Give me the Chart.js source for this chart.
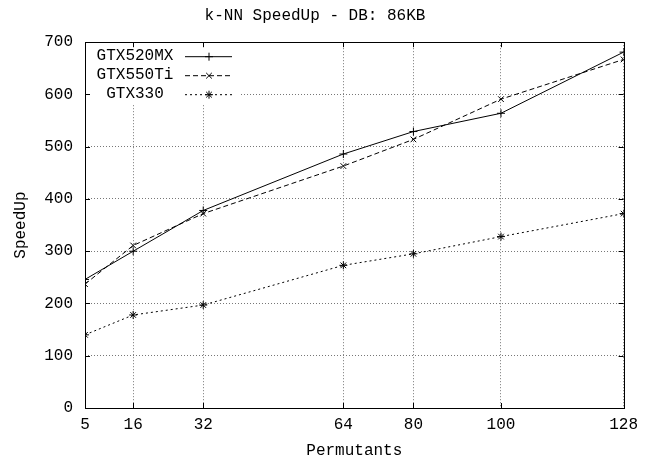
<!DOCTYPE html>
<html><head>
<meta charset="UTF-8">
<title>k-NN SpeedUp - DB: 86KB</title>
<style>
  body { margin: 0; background: #fff; }
  #wrap { width: 645px; height: 462px; }
</style>
<script src="https://cdn.jsdelivr.net/npm/chart.js"></script>
</head>
<body>
<div id="wrap"><canvas id="speedChart"></canvas></div>
<script>
  // values
  const permutants = [5, 16, 32, 64, 80, 100, 128];
  const seriesNames = ['GTX520MX', 'GTX550Ti', 'GTX330'];
  const gtx520mx = [246, 300, 378, 486, 529, 564, 681];
  const gtx550ti = [237, 311, 372, 463, 514, 591, 667];
  const gtx330 = [140, 178, 197, 273, 295, 328, 372];
  const yTicks = [0, 100, 200, 300, 400, 500, 600, 700];

  const mono = "'Liberation Mono', 'DejaVu Sans Mono', monospace";
  const dashes = [[], [5, 3], [2, 3]];
  const markers = ['cross', 'crossRot', 'star'];
  const allValues = [gtx520mx, gtx550ti, gtx330];

  // gnuplot style: white key box, full border, inward tics
  const gnuplotFrame = {
    id: 'gnuplotFrame',
    beforeDatasetsDraw(chart) {
      const ctx = chart.ctx;
      const a = chart.chartArea;
      ctx.save();
      ctx.fillStyle = '#fff';
      ctx.fillRect(a.left + 1, a.top + 1, 155, 61);
      ctx.restore();
    },
    afterDraw(chart) {
      const ctx = chart.ctx;
      const a = chart.chartArea;
      const xs = chart.scales.x, ys = chart.scales.y;
      ctx.save();

      // key
      ctx.font = '16px ' + mono;
      ctx.fillStyle = '#000';
      ctx.textAlign = 'center';
      ctx.textBaseline = 'middle';
      seriesNames.forEach((name, i) => {
        const y = a.top + 14 + i * 19;
        ctx.fillText(name, a.left + 50, y);
        ctx.strokeStyle = '#000';
        ctx.lineWidth = 1;
        ctx.setLineDash(dashes[i]);
        ctx.beginPath();
        ctx.moveTo(a.left + 100, y + 0.5);
        ctx.lineTo(a.left + 147, y + 0.5);
        ctx.stroke();
        ctx.setLineDash([]);
        Chart.helpers.drawPoint(ctx, {pointStyle: markers[i], radius: 4, borderWidth: 1}, a.left + 124, y + 0.5);
      });

      // border
      ctx.setLineDash([]);
      ctx.strokeStyle = '#000';
      ctx.lineWidth = 1;
      ctx.strokeRect(Math.round(a.left) + 0.5, Math.round(a.top) + 0.5,
        Math.round(a.right - a.left), Math.round(a.bottom - a.top));

      // inward tics
      const tl = 5;
      ctx.beginPath();
      permutants.forEach(v => {
        const px = Math.round(xs.getPixelForValue(v)) + 0.5;
        ctx.moveTo(px, a.bottom); ctx.lineTo(px, a.bottom - tl);
        ctx.moveTo(px, a.top); ctx.lineTo(px, a.top + tl);
      });
      yTicks.forEach(v => {
        const py = Math.round(ys.getPixelForValue(v)) + 0.5;
        ctx.moveTo(a.left, py); ctx.lineTo(a.left + tl, py);
        ctx.moveTo(a.right, py); ctx.lineTo(a.right - tl, py);
      });
      ctx.stroke();
      ctx.restore();
    }
  };

  const datasets = seriesNames.map((name, i) => ({
    label: name,
    data: permutants.map((p, j) => ({x: p, y: allValues[i][j]})),
    borderColor: '#000',
    backgroundColor: '#000',
    borderWidth: 1,
    borderDash: dashes[i],
    pointStyle: markers[i],
    pointRadius: 4,
    pointBorderWidth: 1,
    pointBorderColor: '#000',
    tension: 0,
    fill: false
  }));

  const gridOpts = {
    color: '#777',
    lineWidth: 1,
    drawTicks: false
  };

  new Chart(document.getElementById('speedChart'), {
    type: 'line',
    data: { datasets },
    plugins: [gnuplotFrame],
    options: {
      responsive: true,
      maintainAspectRatio: false,
      animation: false,
      layout: { padding: { left: 0, right: 15, top: 0, bottom: 0 } },
      plugins: {
        legend: { display: false },
        tooltip: { enabled: false },
        title: {
          display: true,
          text: 'k-NN SpeedUp - DB: 86KB',
          color: '#000',
          font: { family: mono, size: 16, weight: 'normal' },
          padding: { top: 6, bottom: 17 }
        }
      },
      scales: {
        x: {
          type: 'linear',
          min: 5,
          max: 128,
          grid: gridOpts,
          border: { display: false, dash: [1, 2] },
          afterBuildTicks: s => { s.ticks = permutants.map(v => ({ value: v })); },
          afterFit: s => { s.height = 54; },
          ticks: {
            color: '#000',
            padding: 7,
            maxRotation: 0,
            autoSkip: false,
            font: { family: mono, size: 16 }
          },
          title: {
            display: true,
            text: 'Permutants',
            color: '#000',
            font: { family: mono, size: 16 },
            padding: { top: 0, bottom: 2 }
          }
        },
        y: {
          min: 0,
          max: 700,
          grid: gridOpts,
          border: { display: false, dash: [1, 2] },
          afterBuildTicks: s => { s.ticks = yTicks.map(v => ({ value: v })); },
          afterFit: s => { s.width = 85; },
          ticks: {
            color: '#000',
            padding: 12,
            font: { family: mono, size: 16 }
          },
          title: {
            display: true,
            text: 'SpeedUp',
            color: '#000',
            font: { family: mono, size: 16 },
            padding: { top: 11, bottom: 0 }
          }
        }
      }
    }
  });
</script>
</body></html>
